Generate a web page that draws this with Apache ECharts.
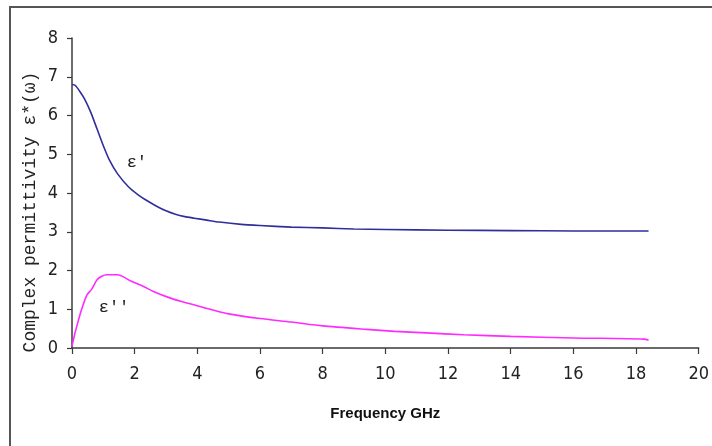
<!DOCTYPE html>
<html>
<head>
<meta charset="utf-8">
<script src="https://cdn.jsdelivr.net/npm/echarts@6/dist/echarts.min.js"></script>
<style>
  html, body { margin: 0; padding: 0; background: #ffffff; }
  #chart { width: 712px; height: 446px; }
</style>
</head>
<body>
<div id="chart"></div>
<script>
// Real part of the complex permittivity, [frequency GHz, value]
const epsReal = [
  [0, 6.8], [0.1, 6.78], [0.25, 6.62], [0.4, 6.43], [0.6, 6.08], [0.8, 5.65],
  [1.0, 5.22], [1.2, 4.84], [1.45, 4.5], [1.8, 4.16], [2.1, 3.96], [2.4, 3.8],
  [2.7, 3.66], [3.0, 3.54], [3.3, 3.45], [3.6, 3.39], [3.9, 3.35], [4.3, 3.3],
  [4.7, 3.25], [5.4, 3.19], [6, 3.16], [7, 3.12], [8, 3.1], [9, 3.07],
  [10, 3.06], [12, 3.04], [14, 3.03], [16, 3.02], [18.4, 3.02]
];

// Imaginary part of the complex permittivity, [frequency GHz, value]
const epsImag = [
  [0, 0.05], [0.1, 0.4], [0.2, 0.7], [0.3, 0.98], [0.47, 1.36], [0.63, 1.52],
  [0.8, 1.76], [0.95, 1.85], [1.1, 1.89], [1.45, 1.89], [1.9, 1.72], [2.3, 1.58],
  [2.6, 1.46], [3.1, 1.3], [3.5, 1.2], [4.0, 1.09], [4.5, 0.98], [5.0, 0.88],
  [6.0, 0.76], [7.0, 0.67], [8.0, 0.57], [9.4, 0.48], [10.3, 0.43], [11.3, 0.39],
  [12.5, 0.34], [14.0, 0.3], [16.0, 0.26], [18.25, 0.23], [18.4, 0.2]
];

// Curve labels and where they sit in data space
const realLabel = { text: "\u03b5'", at: [2.07, 4.78] };
const imagLabel = { text: "\u03b5''", at: [1.34, 1.04] };

const xTitle = 'Frequency GHz';
const yTitle = 'Complex permittivity \u03b5*(\u03c9)';

const tickFont = '"Liberation Sans Narrow", "DejaVu Sans Condensed", "Liberation Sans", Arial, sans-serif';
const monoFont = '"Liberation Mono", "Courier New", "DejaVu Sans Mono", monospace';
const axisColor = '#3a3a3a';

const chart = echarts.init(document.getElementById('chart'), null, { renderer: 'canvas' });

// A text tag pinned to a data coordinate next to its curve
function curveLabel(item) {
  return {
    silent: true,
    symbol: 'circle',
    symbolSize: 1,
    itemStyle: { color: 'rgba(0,0,0,0)' },
    label: {
      show: true,
      position: 'inside',
      formatter: item.text,
      color: '#222',
      fontSize: 17,
      fontFamily: monoFont
    },
    data: [{ coord: item.at, value: 0 }]
  };
}

chart.setOption({
  backgroundColor: '#ffffff',
  animation: false,
  grid: { left: 72, right: 12, top: 38, bottom: 98, containLabel: false },
  xAxis: {
    type: 'value',
    min: 0, max: 20, interval: 2,
    name: xTitle,
    nameLocation: 'middle',
    nameGap: 58,
    nameTextStyle: {
      fontFamily: '"Liberation Sans", Arial, sans-serif',
      fontWeight: 'bold',
      fontSize: 15,
      color: '#111'
    },
    axisLine: { show: true, lineStyle: { color: axisColor, width: 1.5 } },
    axisTick: { show: true, inside: false, length: 6, lineStyle: { color: axisColor, width: 1.2 } },
    axisLabel: { margin: 17, fontSize: 18, fontFamily: tickFont, color: '#222' },
    splitLine: { show: false }
  },
  yAxis: {
    type: 'value',
    min: 0, max: 8, interval: 1,
    axisLine: { show: true, lineStyle: { color: axisColor, width: 1.5 } },
    axisTick: { show: true, inside: false, length: 5, lineStyle: { color: axisColor, width: 1.2 } },
    axisLabel: { margin: 14, fontSize: 18, fontFamily: tickFont, color: '#222' },
    splitLine: { show: false }
  },
  graphic: [
    {
      type: 'rect',
      silent: true,
      shape: { x: 10, y: 7, width: 720, height: 460 },
      style: { fill: 'none', stroke: '#555555', lineWidth: 2 }
    },
    {
      type: 'text',
      silent: true,
      x: 30, y: 212,
      rotation: Math.PI / 2,
      style: {
        text: yTitle,
        fontFamily: monoFont,
        fontSize: 18,
        fill: '#222',
        align: 'center',
        verticalAlign: 'middle'
      }
    }
  ],
  series: [
    {
      type: 'line',
      name: "\u03b5'",
      data: epsReal,
      smooth: 0.25,
      showSymbol: false,
      lineStyle: { color: '#2f2f9c', width: 1.6 },
      itemStyle: { color: '#2f2f9c' },
      markPoint: curveLabel(realLabel)
    },
    {
      type: 'line',
      name: "\u03b5''",
      data: epsImag,
      smooth: 0.25,
      showSymbol: false,
      lineStyle: { color: '#ff2aff', width: 1.6 },
      itemStyle: { color: '#ff2aff' },
      markPoint: curveLabel(imagLabel)
    }
  ]
});
</script>
</body>
</html>
